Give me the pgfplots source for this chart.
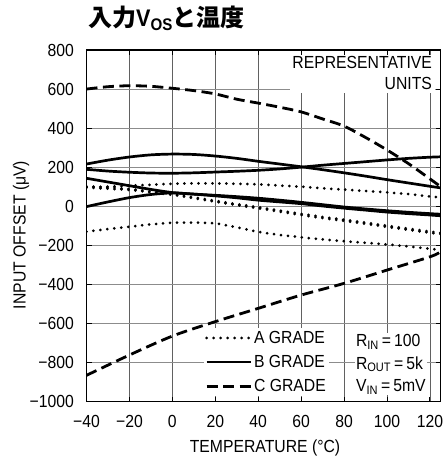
\documentclass[border=0pt]{standalone}
\usepackage{fontspec}
\setmainfont{Liberation Sans}[FakeStretch=0.9]
\newfontfamily\jp{Noto Sans CJK JP}
\usepackage{pgfplots}
\pgfplotsset{compat=1.18}
\newcommand\fs{\fontsize{17.5}{21}\selectfont}
\begin{document}
\begin{tikzpicture}[
  adot/.style={line width=3pt, line cap=round, dash pattern=on 0pt off 7pt},
  bsol/.style={line width=2.7pt},
  cdash/.style={line width=2.8pt, dash pattern=on 11pt off 5.5pt},
]
\useasboundingbox (-86.5pt,-58.5pt) rectangle (356.5pt,401.5pt);
\begin{axis}[at={(0pt,0pt)}, anchor=south west, scale only axis,
  width=354.2pt, height=351.5pt,
  xmin=-40, xmax=125, ymin=-1000, ymax=800,
  xtick={-40,-20,...,120}, xticklabels={−40,−20,0,20,40,60,80,100,120},
  ytick={-1000,-800,...,800},
  yticklabels={−1000,−800,−600,−400,−200,0,200,400,600,800},
  grid=major, x grid style={black!62, line width=0.9pt},
  y grid style={black!45, line width=0.9pt},
  axis line style={line width=1.2pt},
  major tick length=5pt, tick style={black, line width=1pt},
  tick label style={font=\fs},
  xticklabel style={yshift=-10pt},
  yticklabel style={xshift=-9pt},
  label style={font=\fs},
  xlabel={TEMPERATURE (°C)},
  ylabel={INPUT OFFSET (μV)},
  xlabel style={at={(axis description cs:0.504,-0.1323)}, anchor=center},
  ylabel style={at={(axis description cs:-0.185,0.4737)}, anchor=center},
  legend style={at={(axis cs:73,-974)}, anchor=south east, draw=none, fill=white,
    inner sep=1pt, row sep=6.5pt, font=\fs, cells={anchor=west}},
  legend cell align=left,
  legend image code/.code={\draw[#1] (0pt,0pt) -- (44pt,0pt);},
]
\fill[white] (axis cs:55,579) rectangle (axis cs:122.2,774);

% C grade (dashed)
\addplot[cdash, smooth, forget plot] table {
x y
-40 600
-30 612
-20 617
-10 614
0 604
10 592
20 575
30 548
40 528
50 507
60 483
70 447
80 410
90 352
100 288
110 218
120 140
125 100
};
\addplot[cdash, smooth, forget plot] table {
x y
-40 -866
-20 -762
0 -665
20 -591
40 -523
60 -455
80 -395
100 -327
120 -259
125 -233
};
% B grade (solid)
\addplot[bsol, smooth, forget plot] table {
x y
-40 216
-30 236
-20 252
-10 263
0 267
10 265
20 257
30 245
40 230
50 216
60 202
70 187
80 171
90 154
100 136
110 119
120 102
125 94
};
\addplot[bsol, smooth, forget plot] table {
x y
-40 189
-30 180
-20 174
-10 170
0 169
10 171
20 175
30 179
40 184
50 191
60 200
70 210
80 219
90 228
100 237
110 245
120 251
125 253
};
\addplot[bsol, smooth, forget plot] table {
x y
-40 143
-30 124
-20 105
-10 86
0 70
10 62
20 56
30 49
40 41
50 31
60 20
70 8
80 -4
90 -14
100 -23
110 -31
120 -38
125 -41
};
\addplot[bsol, smooth, forget plot] table {
x y
-40 -2
-30 22
-20 44
-10 60
0 68
10 62
20 53
30 43
40 31
50 22
60 13
70 1
80 -10
90 -20
100 -30
110 -38
120 -45
125 -49
};
% A grade (dotted)
\addplot[adot, smooth, forget plot] table {
x y
-40 97
-20 105
0 115
10 117
20 117
30 115
40 112
50 106
60 100
70 92
80 85
90 78
100 71
110 62
120 50
125 45
};
\addplot[adot, smooth, forget plot] table {
x y
-40 102
-20 88
0 62
10 45
20 28
30 11
40 -5
50 -22
60 -39
70 -55
80 -69
90 -84
100 -100
110 -115
120 -130
125 -136
};
\addplot[adot, smooth, forget plot] table {
x y
-40 95
-20 83
0 58
10 41
20 23
30 6
40 -11
50 -28
60 -45
70 -61
80 -75
90 -90
100 -106
110 -121
120 -136
125 -142
};
\addplot[adot, smooth, forget plot] table {
x y
-40 -130
-30 -117
-20 -105
-10 -93
0 -85
10 -84
20 -88
30 -108
40 -131
50 -147
60 -159
70 -170
80 -179
90 -187
100 -196
110 -206
120 -218
125 -224
};

\addlegendimage{adot}\addlegendentry{A GRADE}
\addlegendimage{bsol}\addlegendentry{B GRADE}
\addlegendimage{cdash}\addlegendentry{C GRADE}

\node[anchor=north east, inner sep=0pt, align=right, font=\fontsize{17.5}{21.7}\selectfont]
  at (axis cs:121,770) {REPRESENTATIVE\\UNITS};
\node[anchor=north west, inner sep=1pt, fill=white, align=left, font=\fontsize{17.5}{22.5}\selectfont]
  at (axis cs:85,-650) {R\textsubscript{IN}\hspace{3pt}=\hspace{3pt}100\\R\textsubscript{OUT}\hspace{3pt}=\hspace{3pt}5k\\V\textsubscript{IN}\hspace{3pt}=\hspace{3pt}5mV};
\end{axis}
\node[anchor=west, inner sep=0pt, font=\fontsize{24}{27}\selectfont] at (1.5pt,383.5pt)
  {{\jp\bfseries 入力}\textbf{V\textsubscript{OS}}{\jp\bfseries と温度}};
\end{tikzpicture}
\end{document}
